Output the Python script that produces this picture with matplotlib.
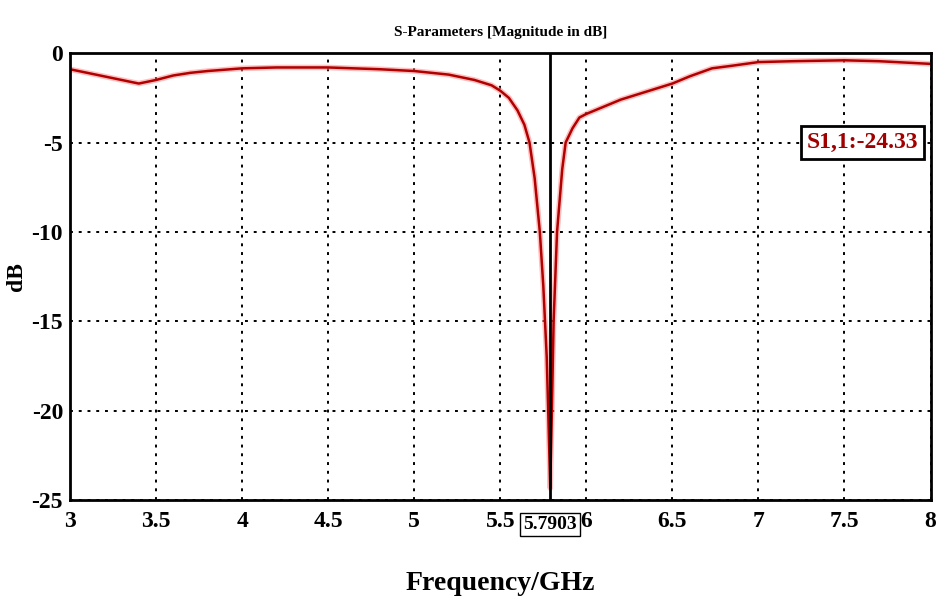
import numpy as np
import matplotlib
matplotlib.use("Agg")
import matplotlib.pyplot as plt

# S11 curve
freq = [3.0, 3.1, 3.2, 3.3, 3.4, 3.5, 3.6, 3.7, 3.8, 4.0, 4.2, 4.5, 4.8, 5.0,
        5.2, 5.35, 5.45, 5.5, 5.55, 5.6, 5.64, 5.67, 5.70, 5.73, 5.75, 5.77,
        5.78, 5.7903, 5.80, 5.81, 5.83, 5.86, 5.88, 5.92, 5.96, 6.0, 6.1,
        6.2, 6.3, 6.4, 6.5, 6.6, 6.73, 6.85, 7.0, 7.2, 7.5, 7.7, 8.0]
s11 = [-0.9, -1.1, -1.3, -1.5, -1.7, -1.5, -1.25, -1.1, -1.0, -0.85, -0.8,
       -0.8, -0.9, -1.0, -1.2, -1.5, -1.8, -2.1, -2.5, -3.2, -4.0, -5.0,
       -7.0, -10.0, -13.0, -17.0, -20.5, -24.33, -20.0, -15.0, -10.0, -6.5,
       -5.0, -4.2, -3.6, -3.4, -3.0, -2.6, -2.3, -2.0, -1.7, -1.3, -0.85,
       -0.7, -0.5, -0.45, -0.4, -0.45, -0.6]

xticks = [3, 3.5, 4, 4.5, 5, 5.5, 6, 6.5, 7, 7.5, 8]
yticks = [0, -5, -10, -15, -20, -25]
marker_f = 5.7903
marker_label = "S1,1:-24.33"

plt.rcParams['font.family'] = ['Liberation Serif', 'DejaVu Serif']
plt.rcParams['font.weight'] = 'bold'
plt.rcParams['axes.unicode_minus'] = False

fig = plt.figure(figsize=(9.39, 6.04), dpi=100)
ax = fig.add_axes([0.0745, 0.172, 0.9165, 0.74])

ax.plot(freq, s11, color='#ff8080', lw=4, alpha=0.5, solid_joinstyle='round')
ax.plot(freq, s11, color='#b00000', lw=1.8)
ax.axvline(marker_f, color='black', lw=2)

ax.set_xlim(3, 8)
ax.set_ylim(-25, 0)
ax.set_xticks(xticks)
ax.set_xticklabels([str(t) for t in xticks])
ax.set_yticks(yticks)
ax.set_yticklabels([str(t) for t in yticks])
ax.tick_params(length=0, labelsize=17)
ax.tick_params(axis='y', pad=5)
ax.tick_params(axis='x', pad=8)
ax.grid(True, color='black', linestyle=(0, (1.5, 3)), lw=1.4)
for s in ax.spines.values():
    s.set_linewidth(2)

ax.set_title("S-Parameters [Magnitude in dB]", fontsize=11, fontweight='bold', pad=12)
ax.set_ylabel("dB", fontsize=17, fontweight='bold')
ax.yaxis.set_label_coords(-0.05, 0.5)
ax.set_xlabel("Frequency/GHz", fontsize=20, fontweight='bold', labelpad=28)

ax.text(marker_f, -25.9, "5.7903", ha='center', va='top', fontsize=14,
        bbox=dict(boxstyle='square,pad=0.15', fc='white', ec='black', lw=1))
ax.text(0.921, 0.8, marker_label, transform=ax.transAxes, ha='center', va='center',
        fontsize=17, color='#a00000',
        bbox=dict(boxstyle='square,pad=0.25', fc='white', ec='black', lw=2))

fig.savefig("out.png", dpi=100)
